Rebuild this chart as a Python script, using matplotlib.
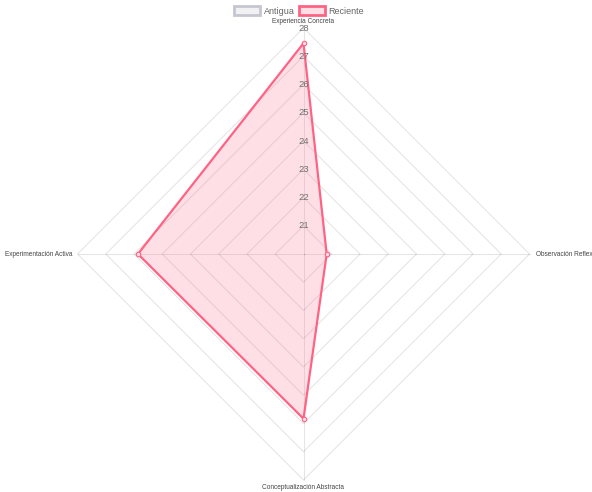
import numpy as np
import matplotlib
matplotlib.use("Agg")
from matplotlib import pyplot as plt
from matplotlib.patches import Patch

# Data
categories = ["Experiencia Concreta", "Observación Reflexiva",
              "Conceptualización Abstracta", "Experimentación Activa"]
reciente = [27.46, 20.82, 25.83, 25.86]
antigua = []          # dataset shown only in the legend
tick_values = [21, 22, 23, 24, 25, 26, 27, 28]
scale_min = 20
scale_max = 28

plt.rcParams['font.family'] = ['Liberation Sans', 'DejaVu Sans']

W, H = 592, 492
px = 28.25                      # pixels per unit on the radial scale
cx, cy = 303.5, 254.0           # centre of the radar in pixels

fig = plt.figure(figsize=(W / 100, H / 100), dpi=100)
ax = fig.add_axes([0, 0, 1, 1])
ax.set_xlim(-cx / px, (W - cx) / px)
ax.set_ylim(-(H - cy) / px, cy / px)
ax.set_aspect('equal')
ax.axis('off')

n = len(categories)
angles = np.pi / 2 - np.arange(n) * 2 * np.pi / n   # clockwise from top


def xy(vals):
    r = np.asarray(vals, dtype=float) - scale_min
    return r * np.cos(angles), r * np.sin(angles)


grid_col = (0, 0, 0, 0.1)
# polygonal grid rings
for t in tick_values:
    gx, gy = xy([t] * n)
    ax.plot(np.append(gx, gx[0]), np.append(gy, gy[0]), color=grid_col, lw=0.8, zorder=1)
# angle lines
ox, oy = xy([scale_max] * n)
for i in range(n):
    ax.plot([0, ox[i]], [0, oy[i]], color=grid_col, lw=0.8, zorder=1)

# data polygon
rx, ry = xy(reciente)
ax.fill(np.append(rx, rx[0]), np.append(ry, ry[0]),
        color=(1, 99 / 255, 132 / 255, 0.2), lw=0, zorder=2)
ax.plot(np.append(rx, rx[0]), np.append(ry, ry[0]),
        color='#ff6384', lw=1.6, zorder=3)
ax.plot(rx, ry, 'o', ms=3.2, mfc='#ffe0e6', mec='#ff6384', mew=0.8, zorder=4)

# tick labels along the top axis
for t in tick_values:
    ax.text(0, t - scale_min, str(t), ha='center', va='center',
            fontsize=6.8, color='#707070', zorder=5)

# point labels
lab_r = scale_max - scale_min
lab_kw = dict(fontsize=4.7, color='#444444')
ax.text(0, lab_r + 3.5 / px, categories[0], ha='center', va='bottom', **lab_kw)
ax.text(lab_r + 6 / px, 0, categories[1], ha='left', va='center', **lab_kw)
ax.text(0, -lab_r - 4 / px, categories[2], ha='center', va='top', **lab_kw)
ax.text(-lab_r - 5 / px, 0, categories[3], ha='right', va='center', **lab_kw)

handles = [Patch(facecolor=(201 / 255, 203 / 255, 215 / 255, 0.25),
                 edgecolor='#c6c6d2', lw=2, label='Antigua'),
           Patch(facecolor=(1, 99 / 255, 132 / 255, 0.2),
                 edgecolor='#ff6384', lw=2, label='Reciente')]
fig.legend(handles=handles, loc='upper center', bbox_to_anchor=(0.505, 1.004),
           ncol=2, frameon=False, fontsize=6.5, handlelength=2.9, handleheight=1.2,
           columnspacing=0.45, handletextpad=0.4, labelcolor='#666666')

fig.savefig("out.png", dpi=100)
